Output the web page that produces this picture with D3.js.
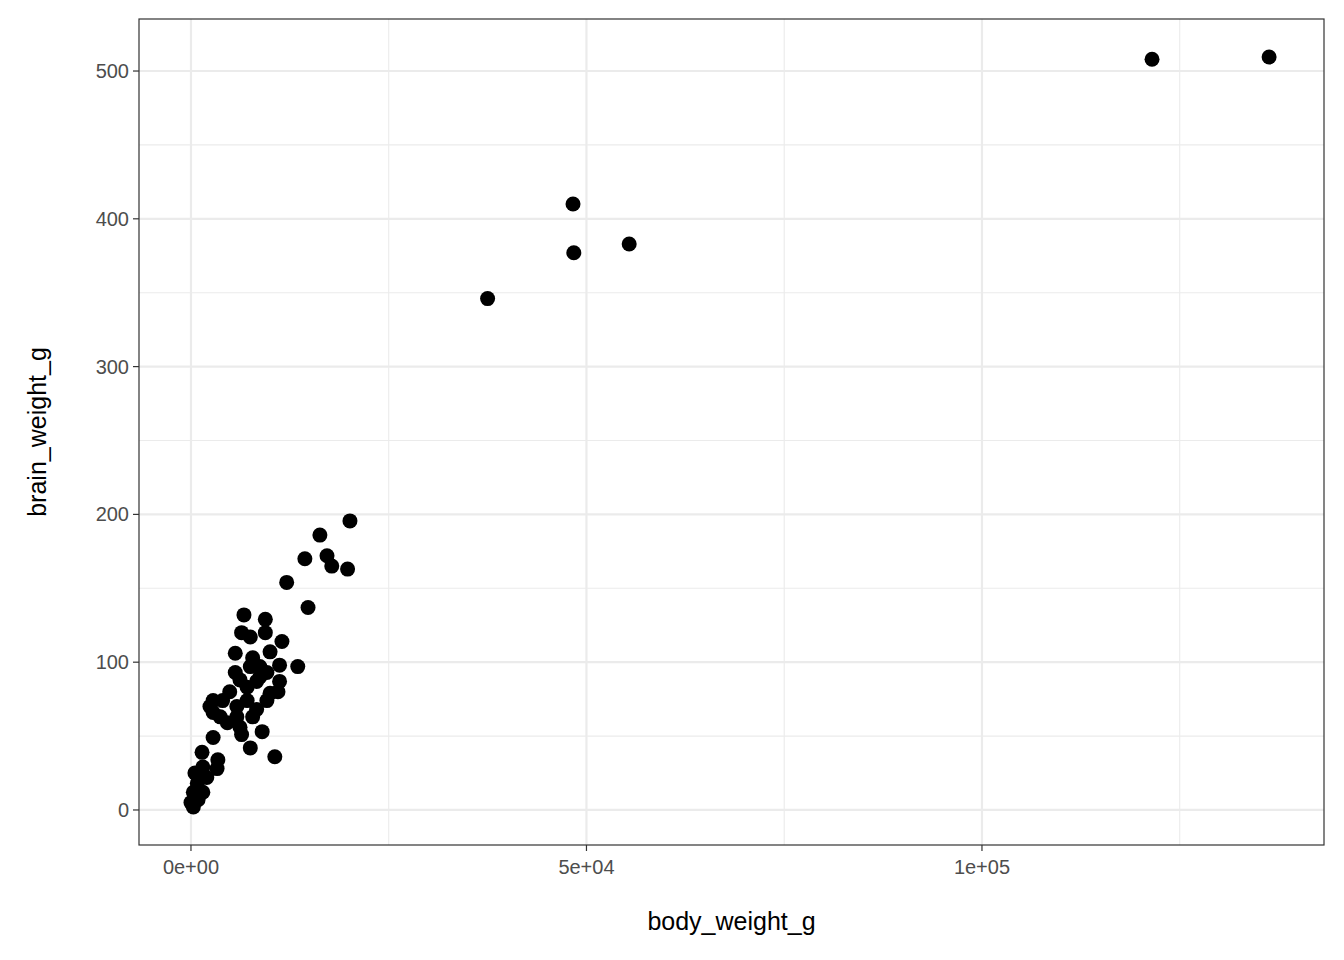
<!DOCTYPE html>
<html>
<head>
<meta charset="utf-8">
<script src="https://cdn.jsdelivr.net/npm/d3@7"></script>
<style>
  body { margin: 0; background: #fff; }
  text { font-family: "Liberation Sans", Arial, sans-serif; }
</style>
</head>
<body>
<svg id="chart" width="1344" height="960"></svg>
<script>
// body weight (g) and brain weight (g)
var bodyWeight = [121500, 136300, 48300, 48400, 55400, 37500,
  20100, 16300, 14400, 17200, 17800, 19800, 12100, 14800, 6700, 9400, 9400, 6400, 7500, 11500,
  5600, 10000, 7800, 11200, 13500, 8700, 7500, 5600, 9600, 6200, 11200, 8300, 11000, 10000,
  4900, 2800, 4000, 7100, 9600, 2800, 5800, 8300, 3700, 5800, 7800, 4600, 6200, 6400, 9000,
  2800, 7500, 10600, 3400, 1400, 1500, 3300, 500, 2000, 800, 1500, 300, 0, 300, 900, 2400,
  7100, 8700];
var brainWeight = [508, 509.5, 410, 377, 383, 346,
  195.6, 186, 170, 172, 165, 163, 154, 137, 132, 129, 120, 120, 117, 114,
  106, 107, 103, 98, 97, 97, 97, 93, 93, 88, 87, 87, 80, 79,
  80, 74, 74, 74, 74, 66, 70, 68, 63, 63, 63, 59, 56, 51, 53,
  49, 42, 36, 34, 39, 29, 28, 25, 22, 18, 12, 12, 5, 2, 7, 70,
  83, 90];
var xTicks = [0, 50000, 100000];
var xTickLabels = ["0e+00", "5e+04", "1e+05"];
var xMinor = [25000, 75000, 125000];
var yTicks = [0, 100, 200, 300, 400, 500];
var yMinor = [50, 150, 250, 350, 450];

(function () {
  var svg = d3.select("#chart");
  var pl = 139, pt = 19, pr = 1324, pb = 845;

  var x = d3.scaleLinear().domain([-6570, 143240]).range([pl, pr]);
  var y = d3.scaleLinear().domain([-23.7, 535.2]).range([pb, pt]);

  var grid = svg.append("g");
  grid.selectAll(".xm").data(xMinor).enter().append("line")
    .attr("x1", x).attr("x2", x).attr("y1", pt).attr("y2", pb)
    .attr("stroke", "#EBEBEB").attr("stroke-width", 1.1);
  grid.selectAll(".ym").data(yMinor).enter().append("line")
    .attr("y1", y).attr("y2", y).attr("x1", pl).attr("x2", pr)
    .attr("stroke", "#EBEBEB").attr("stroke-width", 1.1);
  grid.selectAll(".xM").data(xTicks).enter().append("line")
    .attr("x1", x).attr("x2", x).attr("y1", pt).attr("y2", pb)
    .attr("stroke", "#EBEBEB").attr("stroke-width", 2.2);
  grid.selectAll(".yM").data(yTicks).enter().append("line")
    .attr("y1", y).attr("y2", y).attr("x1", pl).attr("x2", pr)
    .attr("stroke", "#EBEBEB").attr("stroke-width", 2.2);

  svg.append("g").selectAll("circle").data(bodyWeight).enter().append("circle")
    .attr("cx", function (d) { return x(d); })
    .attr("cy", function (d, i) { return y(brainWeight[i]); })
    .attr("r", 7.5).attr("fill", "#000");

  svg.append("rect").attr("x", pl).attr("y", pt)
    .attr("width", pr - pl).attr("height", pb - pt)
    .attr("fill", "none").attr("stroke", "#333333").attr("stroke-width", 1.2);

  // ticks
  svg.append("g").selectAll("line").data(xTicks).enter().append("line")
    .attr("x1", x).attr("x2", x).attr("y1", pb).attr("y2", pb + 6)
    .attr("stroke", "#333333").attr("stroke-width", 1.2);
  svg.append("g").selectAll("text").data(xTicks).enter().append("text")
    .attr("x", x).attr("y", pb + 29).attr("text-anchor", "middle")
    .attr("font-size", 20).attr("fill", "#4D4D4D")
    .text(function (d, i) { return xTickLabels[i]; });
  svg.append("g").selectAll("line").data(yTicks).enter().append("line")
    .attr("y1", y).attr("y2", y).attr("x1", pl - 6).attr("x2", pl)
    .attr("stroke", "#333333").attr("stroke-width", 1.2);
  svg.append("g").selectAll("text").data(yTicks).enter().append("text")
    .attr("x", pl - 10).attr("y", function (d) { return y(d) + 7; })
    .attr("text-anchor", "end").attr("font-size", 20).attr("fill", "#4D4D4D")
    .text(function (d) { return d; });

  svg.append("text").attr("x", (pl + pr) / 2).attr("y", 930)
    .attr("text-anchor", "middle").attr("font-size", 25).text("body_weight_g");
  svg.append("text").attr("transform", "translate(46," + ((pt + pb) / 2) + ") rotate(-90)")
    .attr("text-anchor", "middle").attr("font-size", 25).text("brain_weight_g");
})();
</script>
</body>
</html>
